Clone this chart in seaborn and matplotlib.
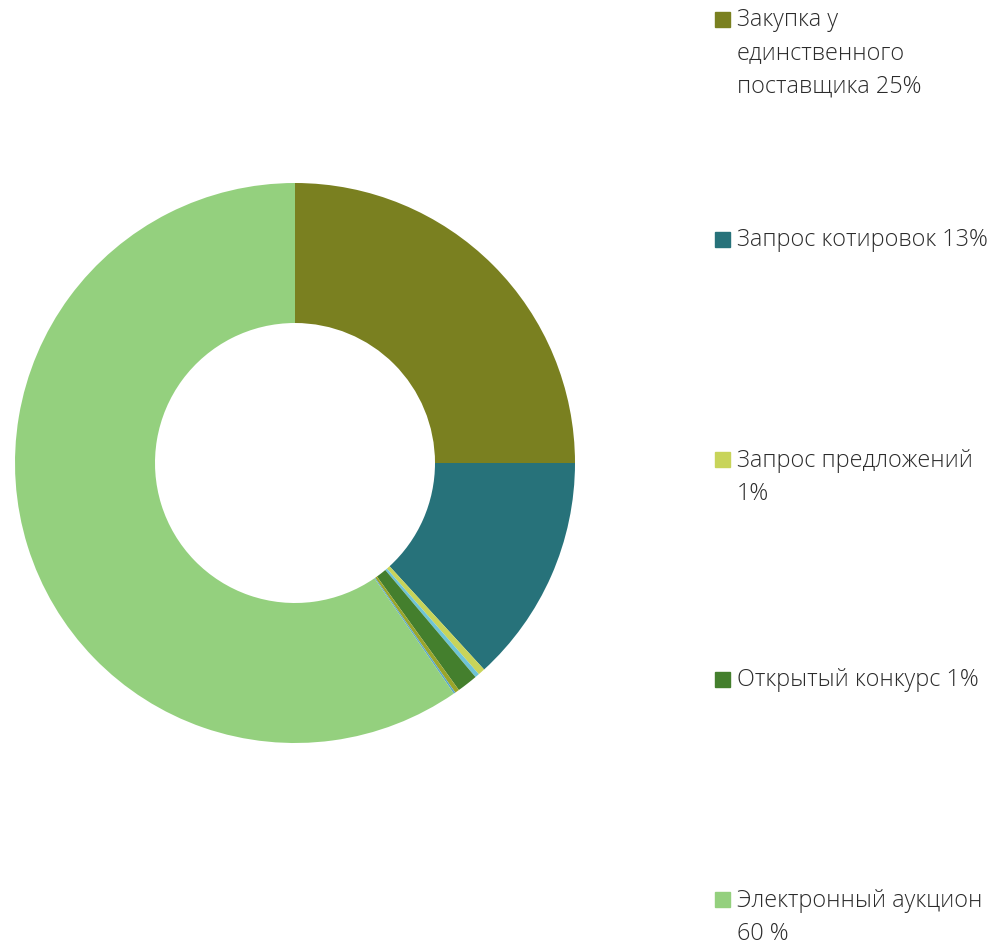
import numpy as np
import seaborn as sns
import matplotlib.pyplot as plt
from matplotlib.patches import Rectangle

# данные
slice_values = [25, 13.2, 0.4, 0.25, 1.2, 0.25, 0.1, 59.6]
slice_colors = ['#7a8020', '#27727a', '#c8d45a', '#6ec4d6', '#447f2d',
                '#9aa52a', '#5aa7c8', '#94d07e']
legend_labels = ['Закупка у\nединственного\nпоставщика 25%',
                 'Запрос котировок 13%',
                 'Запрос предложений\n1%',
                 'Открытый конкурс 1%',
                 'Электронный аукцион\n60 %']
legend_colors = ['#7a8020', '#27727a', '#c8d45a', '#447f2d', '#94d07e']

sns.set_theme(style='white')
plt.rcParams['font.family'] = ['Open Sans', 'DejaVu Sans']

W, H = 991, 946
fig = plt.figure(figsize=(W / 100, H / 100), dpi=100)
ax = fig.add_axes([15 / W, (H - 743) / H, 560 / W, 560 / H])

ax.pie(slice_values, colors=slice_colors, startangle=90, counterclock=False,
       radius=1, wedgeprops=dict(width=0.5, linewidth=0))
ax.set_xlim(-1, 1)
ax.set_ylim(-1, 1)
ax.set_aspect('equal')
ax.axis('off')

# легенда справа
for i, (lab, col) in enumerate(zip(legend_labels, legend_colors)):
    yc = 19.5 + 220 * i
    fig.patches.append(Rectangle((715 / W, 1 - (yc + 7.5) / H), 15 / W, 15 / H,
                                 transform=fig.transFigure, color=col, figure=fig))
    fig.text(737 / W, 1 - (yc - 11) / H, lab, fontsize=16.8, color='#2b2b2b',
             va='top', ha='left', linespacing=1.5, fontweight='light')

fig.savefig('out.png', dpi=100)
